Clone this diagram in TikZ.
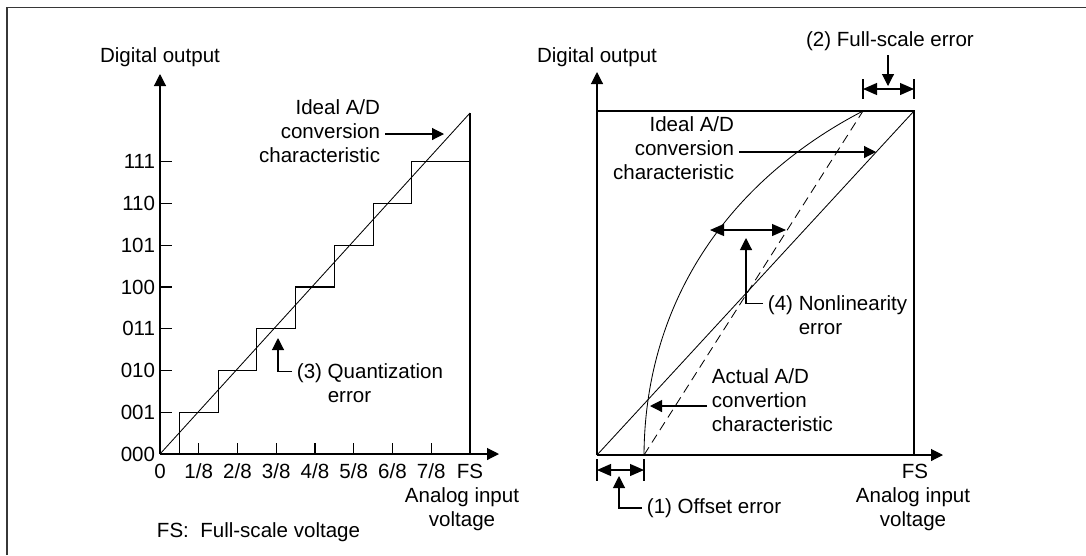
\documentclass[tikz,border=0pt]{standalone}
\usepackage{fontspec}
\setmainfont{Liberation Sans}
\usepackage{tikz}
\usetikzlibrary{arrows.meta, positioning, calc}
\definecolor{framegray}{RGB}{55,55,55}
\tikzset{
  lbl/.style={font=\fontsize{14.6}{16.9}\selectfont, inner sep=0.3333em},
  axis/.style={-{Triangle[length=3mm,width=3mm]}, line width=0.8pt},
  line/.style={line width=0.8pt},
  thinline/.style={line width=0.6pt},
  arrow/.style={-{Triangle[length=3mm,width=3mm]}, line width=0.8pt},
  dimarrow/.style={{Triangle[length=3.5mm,width=3mm]}-{Triangle[length=3.5mm,width=3mm]}, line width=0.8pt},
  dashline/.style={line width=0.6pt, dash pattern=on 2.3mm off 1.4mm}
}

\begin{document}
\begin{tikzpicture}[x=0.025cm, y=-0.025cm]
  \useasboundingbox (0,0) rectangle (1086,555);
  \draw[framegray, line width=1pt] (7,555) -- (7,7.5) -- (1086,7.5);

  % left chart
  \draw[axis] (160,454) -- (160,74);
  \draw[axis] (160,454) -- (499,454);
  \node[lbl, anchor=base] (dout1) at (160,62) {Digital output};
  \foreach \code [count=\i from 0] in {000,001,010,011,100,101,110,111} {
    \draw[line] (160,{454-41.75*\i}) -- (172,{454-41.75*\i});
    \node[lbl, anchor=east] (code\i) at (160,{454-41.75*\i}) {\code};
  }
  \foreach \i in {1,...,7}
    \draw[line] ({160+38.75*\i},454) -- ({160+38.75*\i},443);
  \foreach \xtxt [count=\i from 0] in {0,1/8,2/8,3/8,4/8,5/8,6/8,7/8,FS}
    \node[lbl, anchor=base] (xval\i) at ({160+38.75*\i},478) {\xtxt};
  \draw[line] (470,454) -- (470,113);
  \draw[thinline] (160,454) -- (470,113);
  \draw[line] (179.4,454) \foreach \i in {1,...,6} { |- ({160+38.75*(\i+0.5)},{454-41.75*\i}) }
    |- (470,{454-41.75*7});
  \node[lbl, align=right, anchor=east] (ideal1) at (385,131) {Ideal A/D\\conversion\\characteristic};
  \coordinate (ideal1tip) at (444,134);
  \draw[arrow] (ideal1.east |- ideal1tip) -- (ideal1tip);
  \node[lbl, align=left, anchor=west] (quant) at (292,383) {(3) Quantization\\\hphantom{(3)\ }error};
  \coordinate (quanttip) at (278,338);
  \draw[arrow] ([yshift=8.2pt]quant.west) -| (quanttip);
  \node[lbl, align=center] (ain1) at (462,509) {Analog input\\voltage};
  \node[lbl, anchor=base west] (fsnote) at (152,537) {FS:~~Full-scale voltage};

  % right chart
  \draw[axis] (597,455) -- (597,72);
  \draw[axis] (597,455) -- (943,455);
  \node[lbl, anchor=base] (dout2) at (597,62) {Digital output};
  \draw[line] (597,111) -- (914,111) -- (914,455);
  \draw[thinline] (597,455) -- (914,111);
  \draw[dashline] (644,455) -- (863,111);
  \draw[thinline] (644,455) .. controls (645,300) and (730,180) .. (863,111);
  \node[lbl, anchor=base] (fs2) at (915,478) {FS};
  \node[lbl, align=center] (ain2) at (913,509) {Analog input\\voltage};

  \node[lbl, align=right, anchor=east] (ideal2) at (739,148) {Ideal A/D\\conversion\\characteristic};
  \coordinate (ideal2tip) at (876,152);
  \draw[arrow] (ideal2.east |- ideal2tip) -- (ideal2tip);

  \node[lbl, align=left, anchor=west] (actual) at (707,400) {Actual A/D\\convertion\\characteristic};
  \coordinate (acttip) at (650,406);
  \draw[arrow] (actual.west |- acttip) -- (acttip);

  \coordinate (fs1) at (863,89);
  \coordinate (fs2) at (914,89);
  \draw[line] (fs1) ++(0,-10) -- ++(0,20);
  \draw[line] (fs2) ++(0,-10) -- ++(0,20);
  \draw[dimarrow] (fs1) -- (fs2);
  \node[lbl, anchor=base] (fserr) at (890,46) {(2) Full-scale error};
  \coordinate (fstip) at (888,86);
  \draw[arrow] (fserr.south -| fstip) -- (fstip);

  \coordinate (off1) at (597,470);
  \coordinate (off2) at (644,470);
  \draw[line] (off1) ++(0,-11) -- ++(0,22);
  \draw[line] (off2) ++(0,-11) -- ++(0,22);
  \draw[dimarrow] (off1) -- (off2);
  \node[lbl, anchor=west] (offset) at (642,508) {(1) Offset error};
  \coordinate (offtip) at (619,476);
  \draw[arrow] (offset.west) -| (offtip);

  \coordinate (nl1) at (710,230);
  \coordinate (nl2) at (786,230);
  \draw[dimarrow] (nl1) -- (nl2);
  \node[lbl, align=left, anchor=west] (nonlin) at (763,315) {(4) Nonlinearity\\\hphantom{(4)\ }error};
  \coordinate (nltip) at (746,238);
  \draw[arrow] ([yshift=8.2pt]nonlin.west) -| (nltip);
\end{tikzpicture}
\end{document}
